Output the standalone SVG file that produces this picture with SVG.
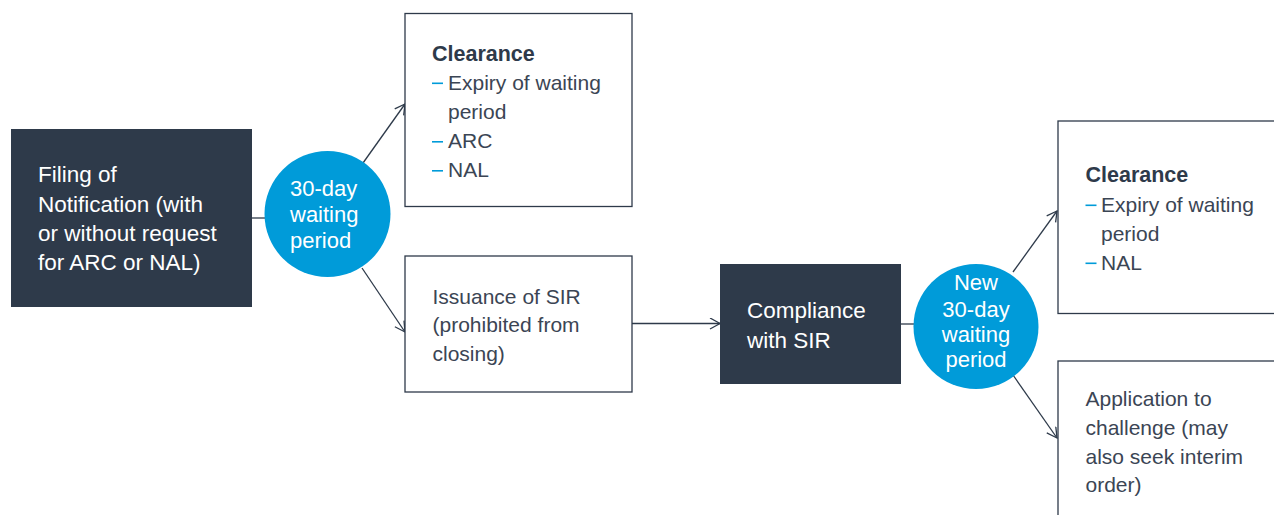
<svg xmlns="http://www.w3.org/2000/svg" width="1274" height="515" viewBox="0 0 1274 515">
<style>
.dark{fill:#2e3a4a}
.box{fill:#ffffff;stroke:#2e3a4a;stroke-width:1.3}
.circ{fill:#009bd9}
.wt{font-family:"Liberation Sans",Arial,sans-serif;font-size:22.5px;fill:#ffffff}
.ct{font-family:"Liberation Sans",Arial,sans-serif;font-size:22px;fill:#ffffff}
.bt{font-family:"Liberation Sans",Arial,sans-serif;font-size:21px;fill:#3b4554}
.hd{font-family:"Liberation Sans",Arial,sans-serif;font-size:21.5px;font-weight:bold;fill:#2e3a4a}
.dash{fill:#009bd9}
.conn{stroke:#2e3a4a;stroke-width:1.3;fill:none}
</style>
<defs>
<marker id="arr" markerUnits="userSpaceOnUse" markerWidth="14" markerHeight="14" refX="11" refY="6" orient="auto">
<path d="M1,0.5 L11,6 L1,11.5" fill="none" stroke="#2e3a4a" stroke-width="1.3"/>
</marker>
</defs>
<g id="connectors">
<line class="conn" x1="251" y1="218" x2="266" y2="218"/>
<line class="conn" x1="363" y1="163" x2="405" y2="104" marker-end="url(#arr)"/>
<line class="conn" x1="362" y1="268" x2="405" y2="332" marker-end="url(#arr)"/>
<line class="conn" x1="632" y1="323.5" x2="720" y2="323.5" marker-end="url(#arr)"/>
<line class="conn" x1="901" y1="324" x2="914" y2="324"/>
<line class="conn" x1="1013" y1="272" x2="1057" y2="211" marker-end="url(#arr)"/>
<line class="conn" x1="1013" y1="375" x2="1057" y2="438" marker-end="url(#arr)"/>
</g>
<g id="filing">
<rect class="dark" x="11" y="129" width="241" height="178"/>
<text class="wt" x="38" y="182">Filing of</text>
<text class="wt" x="38" y="211.5">Notification (with</text>
<text class="wt" x="38" y="240.5">or without request</text>
<text class="wt" x="38" y="269.5">for ARC or NAL)</text>
</g>
<g id="wait1">
<circle class="circ" cx="327.5" cy="214" r="63"/>
<text class="ct" x="290" y="196">30-day</text>
<text class="ct" x="290" y="222">waiting</text>
<text class="ct" x="290" y="248">period</text>
</g>
<g id="clearance1">
<rect class="box" x="405" y="13.5" width="227" height="193"/>
<text class="hd" x="432" y="60.5">Clearance</text>
<rect class="dash" x="432" y="82.5" width="11" height="1.6"/>
<text class="bt" x="448" y="89.5">Expiry of waiting</text>
<text class="bt" x="448" y="118.5">period</text>
<rect class="dash" x="432" y="141" width="11" height="1.6"/>
<text class="bt" x="448" y="148">ARC</text>
<rect class="dash" x="432" y="170" width="11" height="1.6"/>
<text class="bt" x="448" y="177">NAL</text>
</g>
<g id="sir">
<rect class="box" x="405" y="256" width="227" height="136"/>
<text class="bt" x="432.5" y="303.5">Issuance of SIR</text>
<text class="bt" x="432.5" y="332">(prohibited from</text>
<text class="bt" x="432.5" y="360.5">closing)</text>
</g>
<g id="compliance">
<rect class="dark" x="720" y="264" width="181" height="120"/>
<text class="wt" x="747" y="318">Compliance</text>
<text class="wt" x="747" y="347.5">with SIR</text>
</g>
<g id="wait2">
<circle class="circ" cx="976" cy="326.5" r="62.5"/>
<text class="ct" x="976" y="290" text-anchor="middle">New</text>
<text class="ct" x="976" y="316.5" text-anchor="middle">30-day</text>
<text class="ct" x="976" y="342" text-anchor="middle">waiting</text>
<text class="ct" x="976" y="367" text-anchor="middle">period</text>
</g>
<g id="clearance2">
<rect class="box" x="1058" y="121" width="240" height="192.5"/>
<text class="hd" x="1085.5" y="182">Clearance</text>
<rect class="dash" x="1085.5" y="204.5" width="11" height="1.6"/>
<text class="bt" x="1101" y="211.5">Expiry of waiting</text>
<text class="bt" x="1101" y="240.5">period</text>
<rect class="dash" x="1085.5" y="262.5" width="11" height="1.6"/>
<text class="bt" x="1101" y="269.5">NAL</text>
</g>
<g id="application">
<rect class="box" x="1058" y="361" width="240" height="180"/>
<text class="bt" x="1085.5" y="405.5">Application to</text>
<text class="bt" x="1085.5" y="435">challenge (may</text>
<text class="bt" x="1085.5" y="463.5">also seek interim</text>
<text class="bt" x="1085.5" y="492">order)</text>
</g>
</svg>
